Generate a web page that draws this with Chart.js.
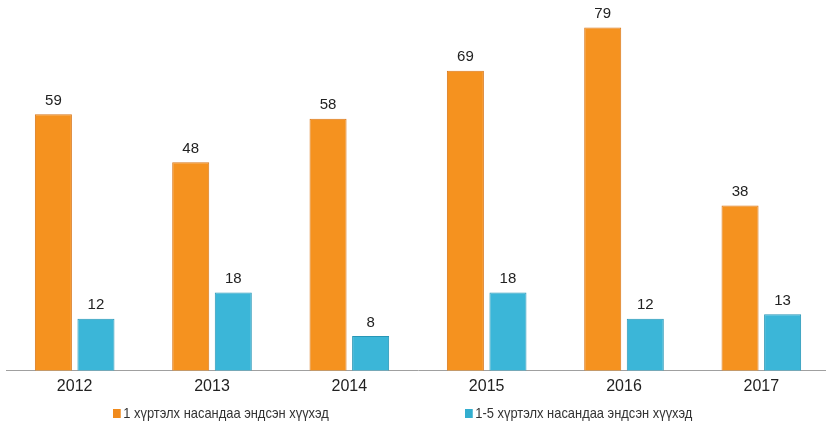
<!DOCTYPE html>
<html>
<head>
<meta charset="utf-8">
<script src="https://cdn.jsdelivr.net/npm/chart.js@4/dist/chart.umd.min.js"></script>
<style>
    html, body { margin: 0; padding: 0; background: #fff; overflow: hidden; }
    #wrap { position: relative; width: 832px; height: 424px; }
    .legend { position: absolute; top: 404px; font-family: "Liberation Sans", Arial, sans-serif; font-size: 15px; color: #333; white-space: nowrap; transform: scaleX(0.86); transform-origin: left center; }
    .legend i { display: inline-block; width: 9px; height: 9px; margin-right: 3px; vertical-align: 0px; }
</style>
</head>
<body>
<div id="wrap">
    <canvas id="chart" width="832" height="424"></canvas>
    <div class="legend" style="left: 113px;"><i style="background:#F08A1C;"></i>1 хүртэлх насандаа эндсэн хүүхэд</div>
    <div class="legend" style="left: 465px;"><i style="background:#33AECF;"></i>1-5 хүртэлх насандаа эндсэн хүүхэд</div>
</div>
<script>
const years = ['2012', '2013', '2014', '2015', '2016', '2017'];
const infant = [59, 48, 58, 69, 79, 38];
const under5 = [12, 18, 8, 18, 12, 13];
const seriesNames = ['1 хүртэлх насандаа эндсэн хүүхэд', '1-5 хүртэлх насандаа эндсэн хүүхэд'];

// value labels above each bar
const barLabels = {
    id: 'barLabels',
    afterDatasetsDraw(chart) {
        const ctx = chart.ctx;
        ctx.save();
        ctx.font = '15px "Liberation Sans", Arial, sans-serif';
        ctx.fillStyle = '#222';
        ctx.textAlign = 'center';
        ctx.textBaseline = 'bottom';
        chart.data.datasets.forEach((ds, i) => {
            chart.getDatasetMeta(i).data.forEach((bar, j) => {
                ctx.fillText(ds.data[j], bar.x, bar.y - 6);
            });
        });
        ctx.restore();
    }
};

new Chart(document.getElementById('chart'), {
    type: 'bar',
    data: {
        labels: years,
        datasets: [{
            label: seriesNames[0],
            data: infant,
            backgroundColor: '#F5921F',
            borderColor: '#D9771A',
            borderWidth: 1
        }, {
            label: seriesNames[1],
            data: under5,
            backgroundColor: '#3BB6D8',
            borderColor: '#2796B6',
            borderWidth: 1
        }]
    },
    options: {
        responsive: false,
        animation: false,
        devicePixelRatio: 1,
        layout: { padding: { top: 10, left: 6, right: 2, bottom: 22 } },
        categoryPercentage: 0.62,
        barPercentage: 0.87,
        plugins: {
            legend: { display: false },
            tooltip: { enabled: false }
        },
        scales: {
            x: {
                grid: { display: false, drawTicks: false },
                border: { color: '#A0A0A0', width: 1 },
                ticks: {
                    color: '#222',
                    padding: 6,
                    font: { family: '"Liberation Sans", Arial, sans-serif', size: 16 }
                }
            },
            y: {
                display: false,
                min: 0,
                max: 83
            }
        }
    },
    plugins: [barLabels]
});
</script>
</body>
</html>
